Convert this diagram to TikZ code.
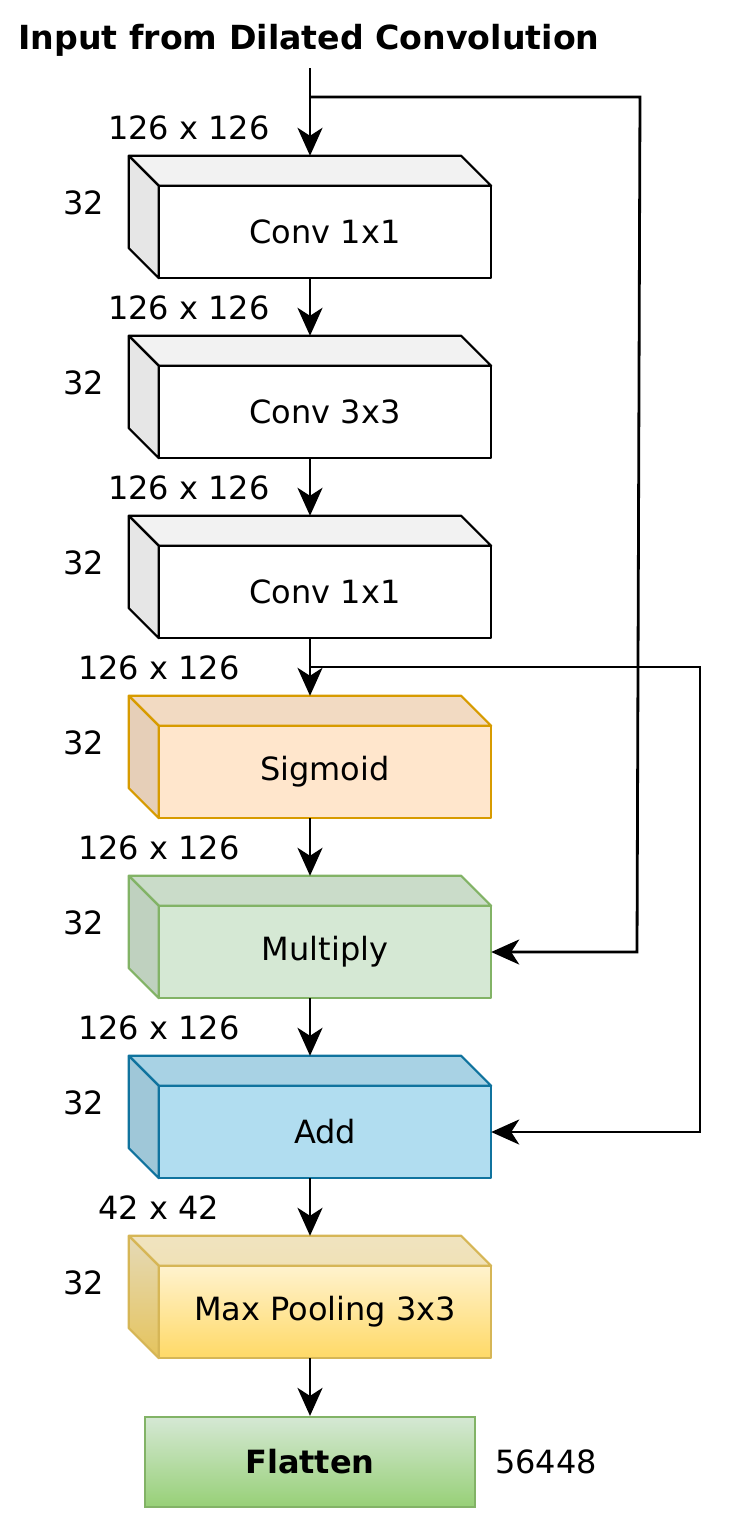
\documentclass[tikz,border=0pt]{standalone}
\usepackage{fontspec}
\setmainfont{DejaVu Sans}
\usetikzlibrary{arrows.meta,calc,backgrounds}

\definecolor{convtop}{HTML}{F2F2F2}
\definecolor{convleft}{HTML}{E6E6E6}
\definecolor{sigfill}{HTML}{FFE6CC}
\definecolor{sigline}{HTML}{D79B00}
\definecolor{sigtop}{HTML}{F2DAC2}
\definecolor{sigleft}{HTML}{E6CFB8}
\definecolor{mulfill}{HTML}{D5E8D4}
\definecolor{mulline}{HTML}{82B366}
\definecolor{multop}{HTML}{CADCC9}
\definecolor{mulleft}{HTML}{BFD1BF}
\definecolor{addfill}{HTML}{B1DDF0}
\definecolor{addline}{HTML}{10739E}
\definecolor{addtop}{HTML}{A8D2E4}
\definecolor{addleft}{HTML}{9FC7D8}
\definecolor{poolhi}{HTML}{FFF2CC}
\definecolor{poollo}{HTML}{FFD966}
\definecolor{poolline}{HTML}{D6B656}
\definecolor{flathi}{HTML}{D5E8D4}
\definecolor{flatlo}{HTML}{97D077}

\tikzset{
	cube/.style={minimum width=180pt,minimum height=60pt,inner sep=0pt,
		label={[xshift=7.5pt,yshift=-7.5pt]center:#1}},
	face/.style={line width=1.1pt,line join=round},
	conv front/.style={face,draw=black,fill=white},
	conv top/.style={face,draw=black,fill=convtop},
	conv left/.style={face,draw=black,fill=convleft},
	sig front/.style={face,draw=sigline,fill=sigfill},
	sig top/.style={face,draw=sigline,fill=sigtop},
	sig left/.style={face,draw=sigline,fill=sigleft},
	mul front/.style={face,draw=mulline,fill=mulfill},
	mul top/.style={face,draw=mulline,fill=multop},
	mul left/.style={face,draw=mulline,fill=mulleft},
	add front/.style={face,draw=addline,fill=addfill},
	add top/.style={face,draw=addline,fill=addtop},
	add left/.style={face,draw=addline,fill=addleft},
	pool front/.style={face,draw=poolline,top color=poolhi!96!white,bottom color=poollo},
	pool top/.style={face,draw=poolline,top color=poolhi!94!black,bottom color=poolhi!90!poollo!94!black},
	pool left/.style={face,draw=poolline,top color=poolhi!90!black,bottom color=poollo!90!black},
	flatbox/.style={draw=mulline,top color=flathi,bottom color=flatlo,line width=1.1pt,
		minimum width=165pt,minimum height=45pt,inner sep=0pt,font=\fontsize{16}{19}\selectfont\bfseries},
	arr/.style={-{Stealth[length=14pt,width=12.5pt,inset=4pt]},line width=1.4pt},
}

\begin{document}
\begin{tikzpicture}[x=0.5pt,y=-0.5pt,line width=1.2pt,
	every node/.style={font=\fontsize{16}{19}\selectfont}]
	\useasboundingbox (0,0) rectangle (735,1521);

	\node[font=\fontsize{16.6}{19}\selectfont\bfseries] (title) at (309,40) {Input from Dilated Convolution};

	% layers
	\node[cube=Conv 1x1] (conv1) at (310,217) {};
	\node[cube=Conv 3x3] (conv2) at (310,397) {};
	\node[cube=Conv 1x1] (conv3) at (310,577) {};
	\node[cube=Sigmoid] (sig) at (310,757) {};
	\node[cube=Multiply] (mul) at (310,937) {};
	\node[cube=Add] (add) at (310,1117) {};
	\node[cube=Max Pooling 3x3] (pool) at (310,1297) {};
	\node[flatbox] (flat) at (310,1462) {Flatten};
	\node (flatsize) at (546,1462) {56448};

	\begin{scope}[on background layer]
		\foreach \n/\k in {conv1/conv,conv2/conv,conv3/conv,sig/sig,mul/mul,add/add,pool/pool} {
			\draw[\k\space front] ($(\n.north west)+(30,30)$) rectangle (\n.south east);
			\draw[\k\space top] (\n.north west) -- ($(\n.north east)+(-30,0)$)
				-- ($(\n.north east)+(0,30)$) -- ($(\n.north west)+(30,30)$) -- cycle;
			\draw[\k\space left] (\n.north west) -- ($(\n.north west)+(30,30)$)
				-- ($(\n.south west)+(30,0)$) -- ($(\n.south west)+(0,-30)$) -- cycle;
		}
	\end{scope}

	% sizes
	\foreach \x/\y/\t [count=\i] in {189/128/126 x 126,189/308/126 x 126,189/488/126 x 126,
		159/668/126 x 126,159/848/126 x 126,159/1028/126 x 126,159/1208/42 x 42}
		\node (dim\i) at (\x,\y) {\t};
	\foreach \y [count=\i] in {203,383,563,743,923,1103,1283}
		\node (ch\i) at (84,\y) {32};

	% connectors
	\coordinate (start) at (310,68);
	\coordinate (br1) at (310,97);
	\coordinate (br2) at (310,667);
	\draw[arr] (start) -- (conv1.north);
	\foreach \a/\b in {conv1/conv2,conv2/conv3,conv3/sig,sig/mul,mul/add,add/pool,pool/flat}
		\draw[arr] (\a.south) -- (\b.north);
	\draw[arr] (br1) -- (640,97) -- (637,952) -- ($(mul.east)+(0,15)$);
	\draw[arr] (br2) -- (700,667) |- ($(add.east)+(0,15)$);
\end{tikzpicture}
\end{document}
